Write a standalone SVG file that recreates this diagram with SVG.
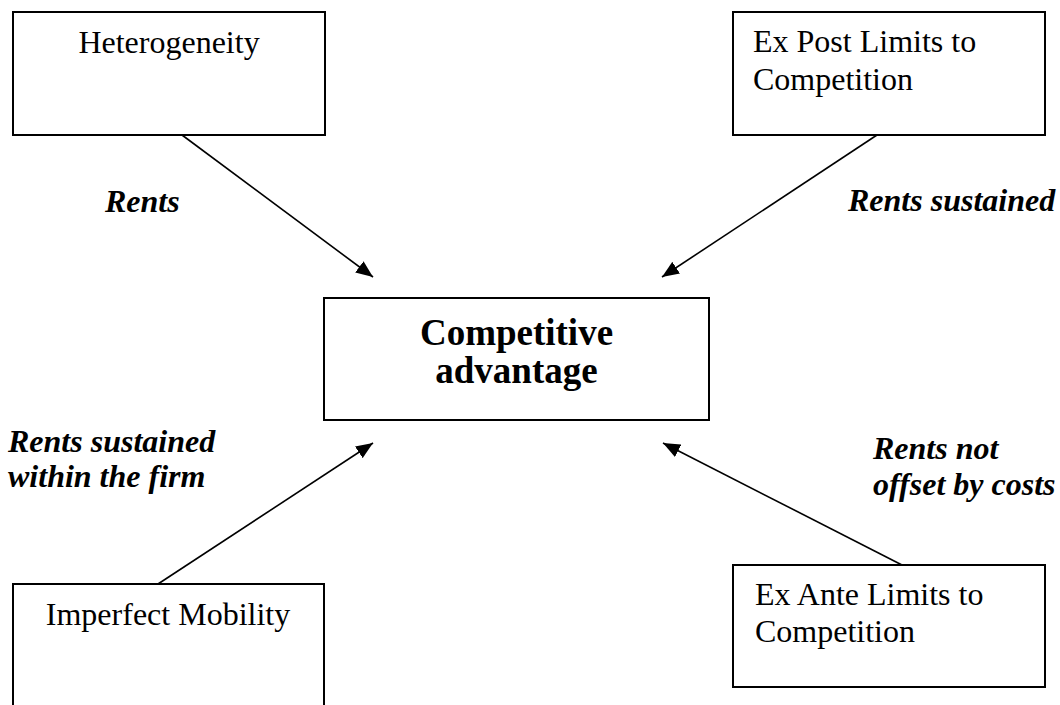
<svg xmlns="http://www.w3.org/2000/svg" width="1060" height="705" viewBox="0 0 1060 705">
<style>
.box{fill:#fff;stroke:#000;stroke-width:2}
.t{font-family:"Liberation Serif","Times New Roman",serif;font-size:32px;fill:#000}
.c{text-anchor:middle}
.b{font-weight:bold;font-size:37px}
.l{font-family:"Liberation Serif","Times New Roman",serif;font-size:32px;font-weight:bold;font-style:italic;fill:#000}
.conn{stroke:#000;stroke-width:1.6;fill:none;marker-end:url(#ah)}
</style>
<defs>
<marker id="ah" markerUnits="userSpaceOnUse" markerWidth="18" markerHeight="14" refX="17" refY="7" orient="auto">
<path d="M0,0 L17,7 L0,14 Z" fill="#000"/>
</marker>
</defs>
<rect width="1060" height="705" fill="#fff"/>
<g id="connectors">
<line class="conn" x1="182" y1="135" x2="373" y2="277"/>
<line class="conn" x1="877" y1="135" x2="662" y2="277"/>
<line class="conn" x1="158" y1="584" x2="373" y2="443"/>
<line class="conn" x1="902" y1="565" x2="663" y2="443"/>
</g>
<g id="heterogeneity">
<rect class="box" x="13" y="12" width="312" height="123"/>
<text class="t c" x="169" y="53">Heterogeneity</text>
</g>
<g id="expost">
<rect class="box" x="733" y="12" width="312" height="123"/>
<text class="t" x="753" y="52">Ex Post Limits to</text>
<text class="t" x="753" y="90">Competition</text>
</g>
<g id="competitive">
<rect class="box" x="324" y="298" width="385" height="122"/>
<text class="t c b" x="516.5" y="345">Competitive</text>
<text class="t c b" x="516.5" y="383">advantage</text>
</g>
<g id="imperfect">
<path class="box" d="M13,706 L13,584 L324,584 L324,706"/>
<text class="t c" x="168" y="625">Imperfect Mobility</text>
</g>
<g id="exante">
<rect class="box" x="733" y="565" width="312" height="122"/>
<text class="t" x="755" y="605">Ex Ante Limits to</text>
<text class="t" x="755" y="642">Competition</text>
</g>
<g id="labels">
<text class="l" x="105" y="212">Rents</text>
<text class="l" x="848" y="211">Rents sustained</text>
<text class="l" x="8" y="452">Rents sustained</text>
<text class="l" x="8" y="487">within the firm</text>
<text class="l" x="873" y="459">Rents not</text>
<text class="l" x="873" y="495">offset by costs</text>
</g>
</svg>
